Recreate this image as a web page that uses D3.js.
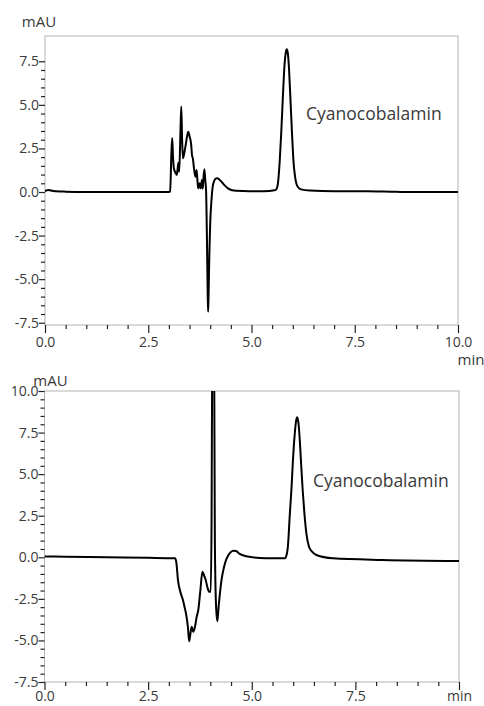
<!DOCTYPE html>
<html lang="en">
<head>
<meta charset="UTF-8">
<title>Cyanocobalamin chromatograms</title>
<script src="https://d3js.org/d3.v7.min.js"></script>
<style>
  body { margin: 0; background: #fff; }
  svg text { font-family: "Open Sans", "Noto Sans", sans-serif; fill: #3a3a3a; }
</style>
</head>
<body>
<script>
    // chromatogram 1 (top): [time min, signal mAU]
    var run1 = [
        [0.00, 0.05], [0.08, 0.12], [0.2, 0.06], [0.5, 0.02], [1.0, 0.0], [2.0, 0.0], [3.0, 0.0],
        [3.03, 0.02], [3.06, 2.2], [3.08, 3.1], [3.10, 2.0], [3.12, 1.36], [3.16, 1.1], [3.19, 0.98],
        [3.21, 1.3], [3.23, 1.68], [3.25, 1.16], [3.28, 3.5], [3.30, 4.9], [3.32, 3.0], [3.34, 1.93],
        [3.37, 2.2], [3.40, 2.6], [3.44, 3.2], [3.47, 3.46], [3.50, 3.2], [3.54, 2.7], [3.56, 2.1],
        [3.58, 1.93], [3.61, 1.3], [3.64, 0.88], [3.67, 1.26], [3.69, 0.7], [3.71, 0.21], [3.74, 0.5],
        [3.77, 0.21], [3.80, 0.69], [3.82, 0.2], [3.84, 0.9], [3.86, 1.3], [3.88, 0.7], [3.90, 0.1],
        [3.92, -2.5], [3.94, -6.0], [3.95, -6.87], [3.96, -6.0], [3.98, -3.5], [4.00, -1.8],
        [4.03, -0.5], [4.06, 0.3], [4.10, 0.65], [4.14, 0.78], [4.17, 0.79], [4.22, 0.72], [4.27, 0.6],
        [4.35, 0.38], [4.43, 0.21], [4.53, 0.1], [4.63, 0.07], [4.95, 0.05], [5.3, 0.05], [5.56, 0.1],
        [5.60, 0.15], [5.64, 0.5], [5.68, 1.65], [5.72, 3.4], [5.76, 5.47], [5.80, 7.3], [5.83, 8.0],
        [5.855, 8.19], [5.88, 7.95], [5.91, 7.0], [5.94, 5.47], [5.98, 3.4], [6.02, 1.65], [6.06, 0.8],
        [6.12, 0.3], [6.2, 0.15], [6.41, 0.08], [7.0, 0.04], [7.8, 0.05], [8.5, 0.01], [9.0, 0.0], [10.0, 0.0]
    ];

    // chromatogram 2 (bottom)
    var run2 = [
        [0.0, 0.05], [0.5, 0.03], [1.5, 0.0], [2.5, -0.03], [3.15, -0.06], [3.18, -0.3], [3.22, -1.37],
        [3.28, -2.1], [3.34, -2.57], [3.38, -3.0], [3.42, -3.47], [3.46, -4.2], [3.49, -5.05],
        [3.52, -4.6], [3.55, -4.18], [3.59, -4.48], [3.63, -4.18], [3.67, -3.6], [3.71, -3.17],
        [3.76, -2.0], [3.81, -0.87], [3.85, -1.1], [3.89, -1.37], [3.93, -1.8], [3.97, -2.07],
        [4.01, -2.07], [4.03, 2.0], [4.05, 14], [4.07, 16], [4.09, 14], [4.11, 1.0], [4.14, -3.0],
        [4.17, -3.85], [4.20, -3.0], [4.27, -1.37], [4.33, -0.6], [4.39, -0.1], [4.47, 0.25],
        [4.55, 0.4], [4.62, 0.38], [4.71, 0.2], [4.87, 0.06], [5.19, -0.04], [5.5, -0.06], [5.80, -0.06],
        [5.84, 0.14], [5.87, 0.6], [5.92, 2.65], [5.96, 4.2], [5.99, 5.66], [6.04, 7.5], [6.07, 8.2],
        [6.10, 8.42], [6.13, 8.0], [6.16, 7.0], [6.19, 5.66], [6.23, 4.0], [6.27, 2.65], [6.32, 1.4],
        [6.38, 0.64], [6.45, 0.35], [6.56, 0.14], [6.96, -0.06], [8.16, -0.16], [10.0, -0.22]
    ];

    var xTicks = [0, 2.5, 5, 7.5, 10];
    var xLabelsTop = ["0.0", "2.5", "5.0", "7.5", "10.0"];
    var xLabelsBottom = ["0.0", "2.5", "5.0", "7.5", "min"];
    var yTicksTop = [-7.5, -5, -2.5, 0, 2.5, 5, 7.5];
    var yTicksBottom = [-7.5, -5, -2.5, 0, 2.5, 5, 7.5, 10];
    var peakName = "Cyanocobalamin";

    var svg = d3.select("body").append("svg")
        .attr("width", 484)
        .attr("height", 706);

    function panel(opts) {
        var x = d3.scaleLinear().domain([0, 10]).range([opts.left, opts.right]);
        var y = d3.scaleLinear().domain(opts.yDomain).range([opts.bottom, opts.top]);
        var g = svg.append("g");

        var clipId = "clip" + opts.id;
        g.append("clipPath").attr("id", clipId)
            .append("rect")
            .attr("x", opts.left).attr("y", opts.top)
            .attr("width", opts.right - opts.left).attr("height", opts.bottom - opts.top);

        // frame
        g.append("rect")
            .attr("x", opts.left).attr("y", opts.top)
            .attr("width", opts.right - opts.left).attr("height", opts.bottom - opts.top)
            .attr("fill", "none").attr("stroke", "#b4b4b4").attr("stroke-width", 1);

        var minorX = d3.range(0, 10.01, 0.5).filter(function (d) { return d % 2.5 !== 0; });
        var minorY = d3.range(opts.yTicks[0], opts.yTicks[opts.yTicks.length - 1] + 0.01, 0.5)
            .filter(function (d) { return Math.abs(d % 2.5) > 0.01; });

        // x axis
        var xa = g.append("g").attr("transform", "translate(0," + opts.bottom + ")");
        xa.call(d3.axisBottom(x).tickValues(minorX).tickSize(4).tickFormat(""));
        var xb = g.append("g").attr("transform", "translate(0," + opts.bottom + ")");
        xb.call(d3.axisBottom(x).tickValues(xTicks).tickSize(8)
            .tickFormat(function (d, i) { return opts.xLabels[i]; }));
        [xa, xb].forEach(function (a) {
            a.select(".domain").remove();
            a.selectAll("line").attr("stroke", "#222").attr("stroke-width", 1.2);
        });
        xb.selectAll("text").attr("y", opts.xLabelGap).attr("dy", "0.71em").style("font-size", "14px");

        // y axis
        var ya = g.append("g").attr("transform", "translate(" + opts.left + ",0)");
        ya.call(d3.axisLeft(y).tickValues(minorY).tickSize(4).tickFormat(""));
        var yb = g.append("g").attr("transform", "translate(" + opts.left + ",0)");
        yb.call(d3.axisLeft(y).tickValues(opts.yTicks).tickSize(6)
            .tickFormat(function (d) { return d.toFixed(1); }));
        [ya, yb].forEach(function (a) {
            a.select(".domain").remove();
            a.selectAll("line").attr("stroke", "#222").attr("stroke-width", 1.2);
        });
        yb.selectAll("text").attr("x", -6).style("font-size", "14px");

        // trace
        var line = d3.line()
            .x(function (d) { return x(d[0]); })
            .y(function (d) { return y(d[1]); })
            .curve(d3.curveMonotoneX);
        g.append("path")
            .datum(opts.data)
            .attr("clip-path", "url(#" + clipId + ")")
            .attr("d", line)
            .attr("fill", "none")
            .attr("stroke", "#000")
            .attr("stroke-width", 2)
            .attr("stroke-linejoin", "round");

        g.append("text").attr("x", opts.mauX).attr("y", opts.mauY)
            .attr("text-anchor", "middle").style("font-size", "15px").text("mAU");
        if (opts.minX) {
            g.append("text").attr("x", opts.minX).attr("y", opts.minY)
                .attr("text-anchor", "middle").style("font-size", "15px").text("min");
        }
        g.append("text").attr("x", opts.labelX).attr("y", opts.labelY)
            .style("font-size", "17.5px").text(peakName);
    }

    panel({
        id: 1, data: run1, left: 45, right: 458, top: 36, bottom: 325,
        yDomain: [-7.63, 8.95], yTicks: yTicksTop, xLabels: xLabelsTop, xLabelGap: 12,
        mauX: 39, mauY: 27, minX: 471, minY: 365, labelX: 306, labelY: 120
    });

    panel({
        id: 2, data: run2, left: 44.5, right: 459, top: 391, bottom: 682,
        yDomain: [-7.5, 10], yTicks: yTicksBottom, xLabels: xLabelsBottom, xLabelGap: 9,
        mauX: 50.5, mauY: 386, labelX: 313, labelY: 487
    });
</script>
</body>
</html>
